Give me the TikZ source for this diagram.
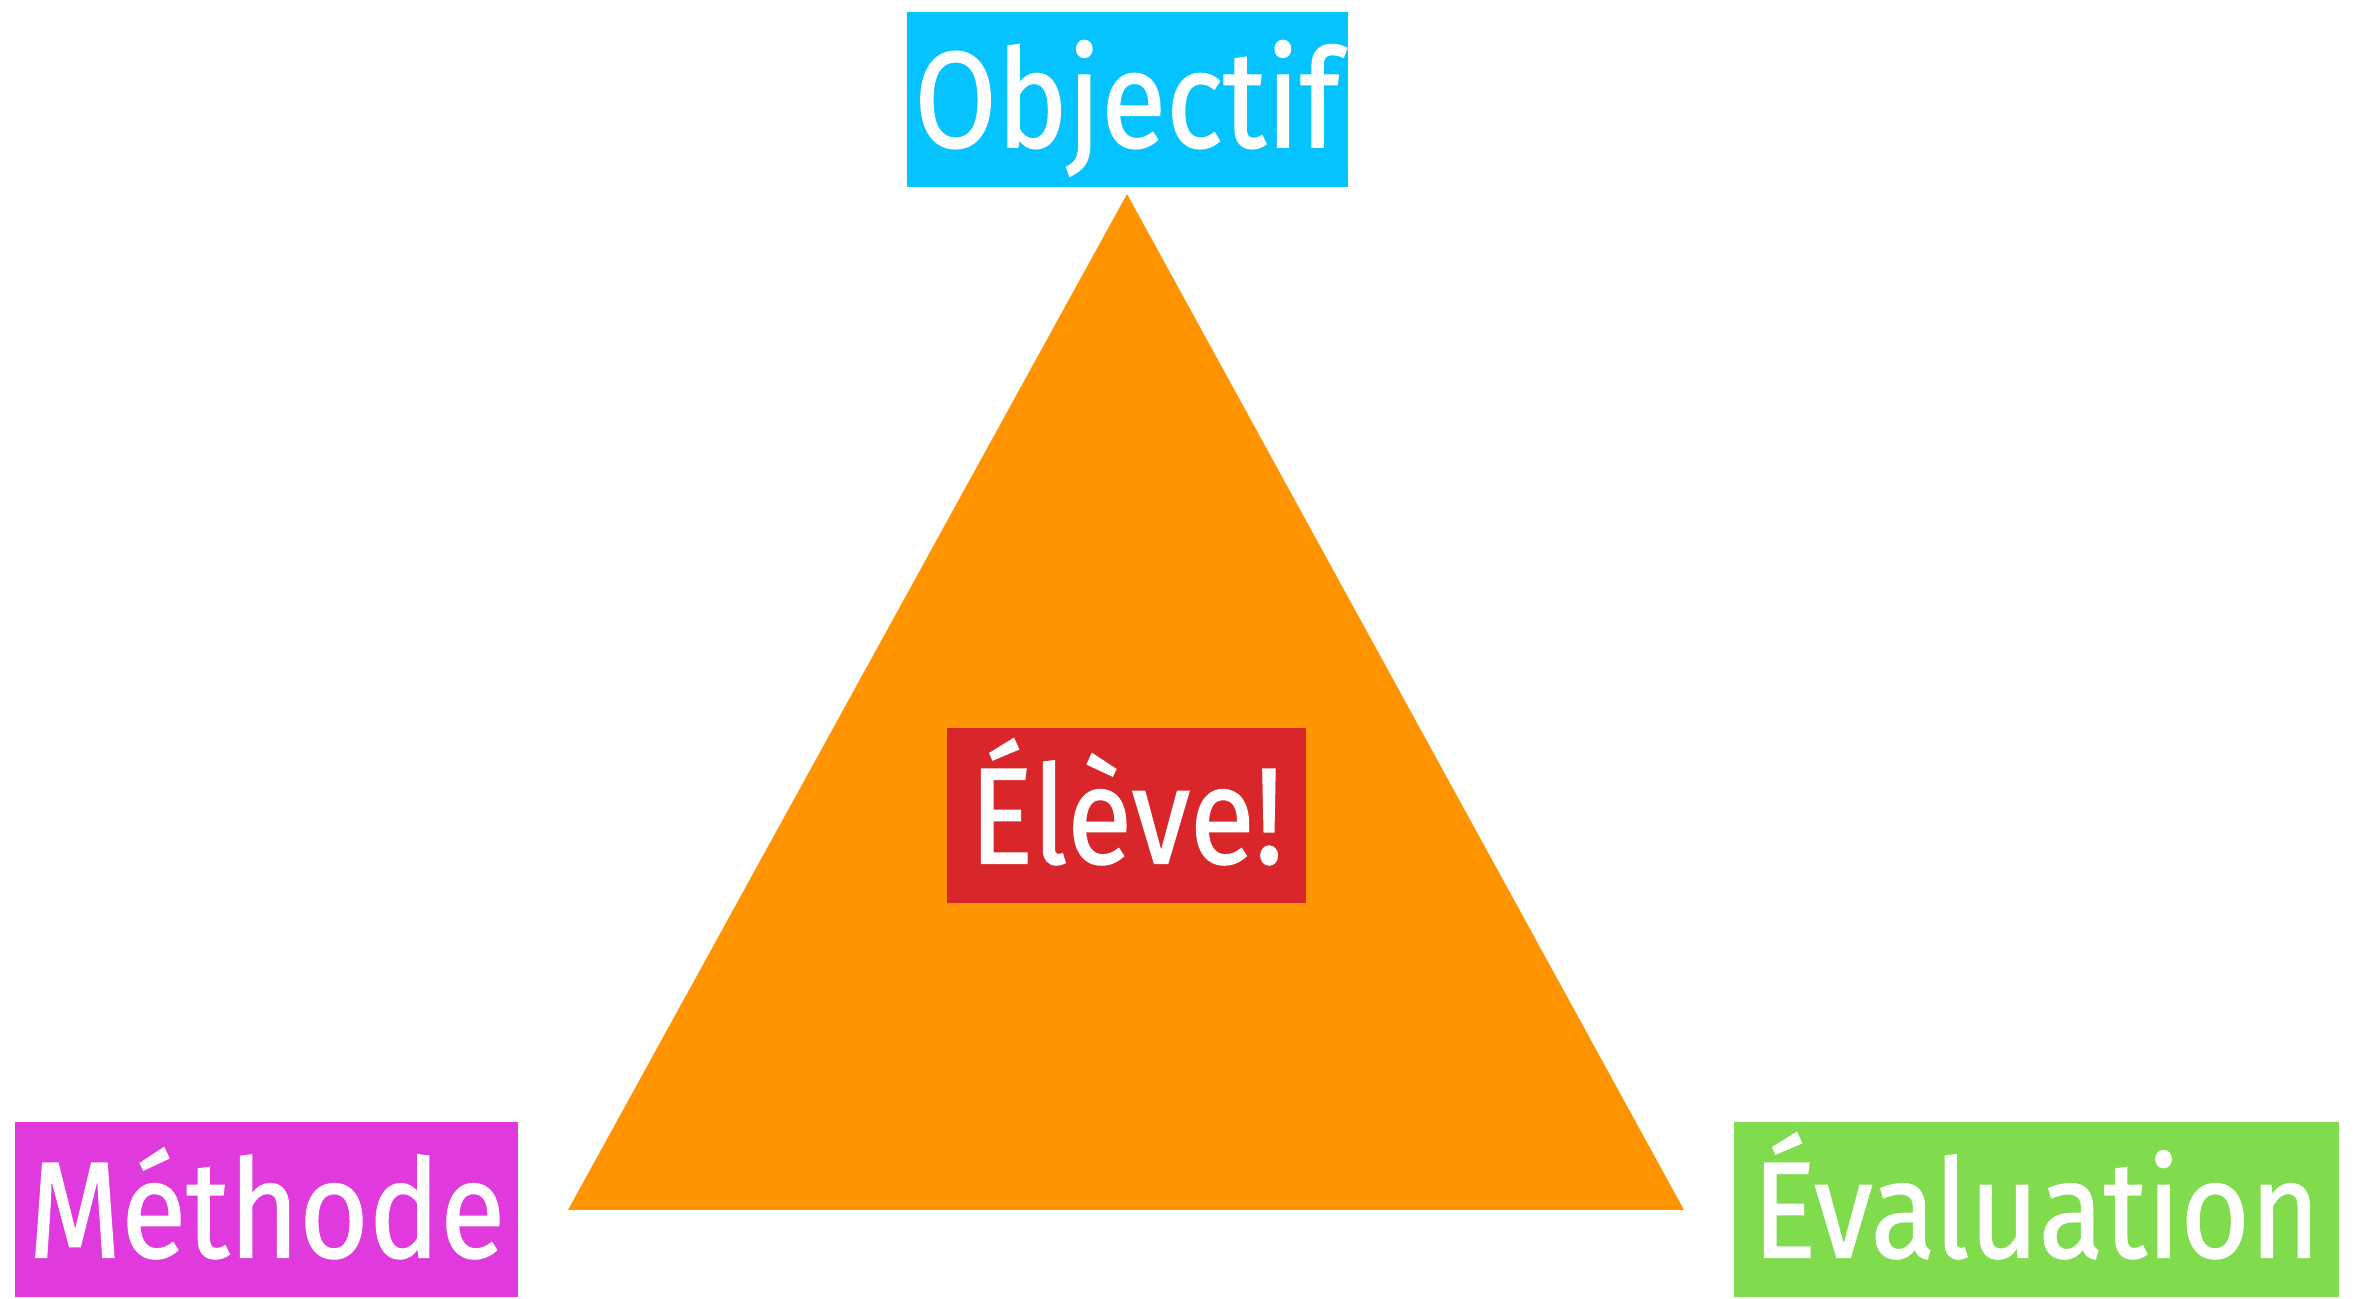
\documentclass[tikz,border=0pt]{standalone}
\usepackage{fontspec}
\setmainfont[FakeStretch=0.87, FakeBold=1]{Fira Sans}
\usetikzlibrary{positioning}
\definecolor{objBlue}{HTML}{05C3FF}
\definecolor{triOrange}{HTML}{FF9400}
\definecolor{eleveRed}{HTML}{D9262A}
\definecolor{methPink}{HTML}{E039DE}
\definecolor{evalGreen}{HTML}{80DB4D}
\tikzstyle{tag} = [rectangle, 
			text=white, 
			inner sep = 0pt, 
			text centered, 
			text height = 27pt, 
			text depth = 0pt, 
			minimum height = 1.75cm, 
			font = \fontsize{39}{39}\selectfont]

\begin{document}
\begin{tikzpicture}
	\useasboundingbox (0,0) rectangle (23.55,12.99);
	\coordinate (top) at (11.27,11.05);
	\coordinate (bl) at (5.68,0.89);
	\coordinate (br) at (16.84,0.89);
	\fill [triOrange] (top) -- (bl) -- (br) -- cycle;
	\node [tag, fill=objBlue, minimum width=4.41cm, above=0.06cm of top] (objectif) {Objectif};
	\node [tag, fill=eleveRed, minimum width=3.59cm] (eleve) at (11.265,4.83) {Élève!};
	\node [tag, fill=methPink, minimum width=5.03cm, left=0.49cm of bl] (methode) {Méthode};
	\node [tag, fill=evalGreen, minimum width=6.05cm, right=0.49cm of br] (evaluation) {Évaluation};
\end{tikzpicture}
\end{document}
